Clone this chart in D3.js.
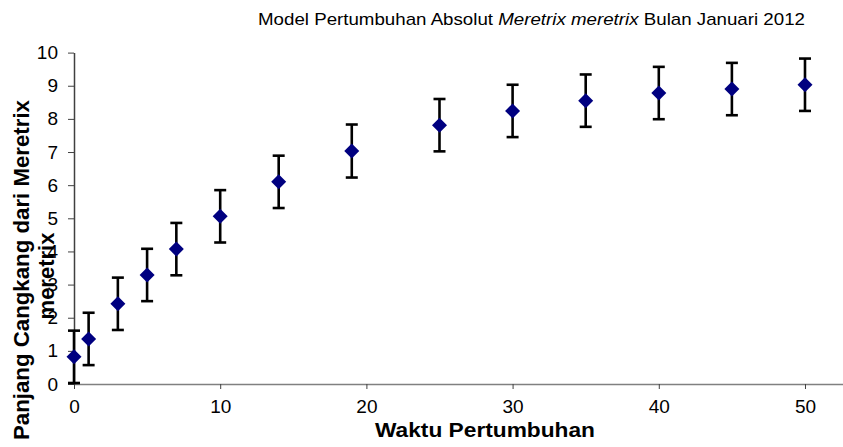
<!DOCTYPE html>
<html><head><meta charset="utf-8">
<script src="https://cdn.jsdelivr.net/npm/d3@7"></script>
<style>body{margin:0;background:#fff}svg{display:block}text{font-family:"Liberation Sans",Arial,sans-serif}</style>
</head><body><svg id="c" width="843" height="447"></svg>
<script>
const waktu = [0, 1, 3, 5, 7, 10, 14, 19, 25, 30, 35, 40, 45, 50];
const panjang = [0.82, 1.36, 2.42, 3.29, 4.07, 5.06, 6.10, 7.03, 7.81, 8.24, 8.55, 8.78, 8.90, 9.03];
const galat = [0.79, 0.79, 0.79, 0.79, 0.79, 0.79, 0.79, 0.80, 0.79, 0.79, 0.79, 0.79, 0.79, 0.79];
const xTicks = [0, 10, 20, 30, 40, 50];
const yTicks = [0, 1, 2, 3, 4, 5, 6, 7, 8, 9, 10];

const svg = d3.select("#c");
const x = d3.scaleLinear().domain([0, 52.6]).range([74, 843]);
const y = d3.scaleLinear().domain([0, 10]).range([384, 52.6]);

svg.append("text").attr("x", 258).attr("y", 25)
  .attr("font-size", 17).attr("fill", "#000")
  .attr("textLength", 547).attr("lengthAdjust", "spacingAndGlyphs")
  .html('Model Pertumbuhan Absolut <tspan font-style="italic">Meretrix meretrix</tspan> Bulan Januari 2012');

const gx = svg.append("g").attr("transform", "translate(0,384)")
  .call(d3.axisBottom(x).tickValues(xTicks).tickSize(5).tickSizeOuter(0).tickPadding(11));
gx.select(".domain").attr("stroke", "#808080").attr("stroke-width", 1.5);
gx.selectAll(".tick line").attr("stroke", "#404040");
gx.selectAll(".tick text").attr("font-size", 19).attr("font-family", "Liberation Sans, Arial, sans-serif").attr("fill", "#000");

const gy = svg.append("g").attr("transform", "translate(74,0)")
  .call(d3.axisLeft(y).tickValues(yTicks).tickSize(6).tickSizeOuter(0).tickPadding(10));
gy.select(".domain").attr("stroke", "#404040").attr("stroke-width", 1.5);
gy.selectAll(".tick line").attr("stroke", "#404040");
gy.selectAll(".tick text").attr("font-size", 19).attr("font-family", "Liberation Sans, Arial, sans-serif").attr("fill", "#000");

const pts = waktu.map((w, i) => ({w, p: panjang[i], e: galat[i]}));
const eb = svg.append("g").attr("stroke", "#000").attr("stroke-width", 2.6).attr("fill", "none");
pts.forEach(d => {
  const cx = x(d.w), t = y(d.p + d.e), b = y(Math.max(0, d.p - d.e));
  eb.append("line").attr("x1", cx).attr("x2", cx).attr("y1", t).attr("y2", b);
  eb.append("line").attr("x1", cx - 6).attr("x2", cx + 6).attr("y1", t).attr("y2", t);
  eb.append("line").attr("x1", cx - 6).attr("x2", cx + 6).attr("y1", b).attr("y2", b);
});

svg.append("g").selectAll("path").data(pts).join("path")
  .attr("d", "M0,-7.5L7.5,0L0,7.5L-7.5,0Z")
  .attr("fill", "#000080")
  .attr("transform", d => `translate(${x(d.w)},${y(d.p)})`);

svg.append("text").attr("x", 375).attr("y", 437)
  .attr("font-size", 21).attr("font-weight", "bold")
  .attr("textLength", 220).attr("lengthAdjust", "spacingAndGlyphs")
  .text("Waktu Pertumbuhan");

const yt = svg.append("text").attr("transform", "translate(0,270) rotate(-90)")
  .attr("text-anchor", "middle").attr("font-size", 22).attr("font-weight", "bold");
yt.append("tspan").attr("x", 0).attr("y", 29).attr("textLength", 340).attr("lengthAdjust", "spacingAndGlyphs")
  .text("Panjang Cangkang dari Meretrix");
yt.append("tspan").attr("x", -6).attr("y", 54).text("meretrix");
</script></body></html>
